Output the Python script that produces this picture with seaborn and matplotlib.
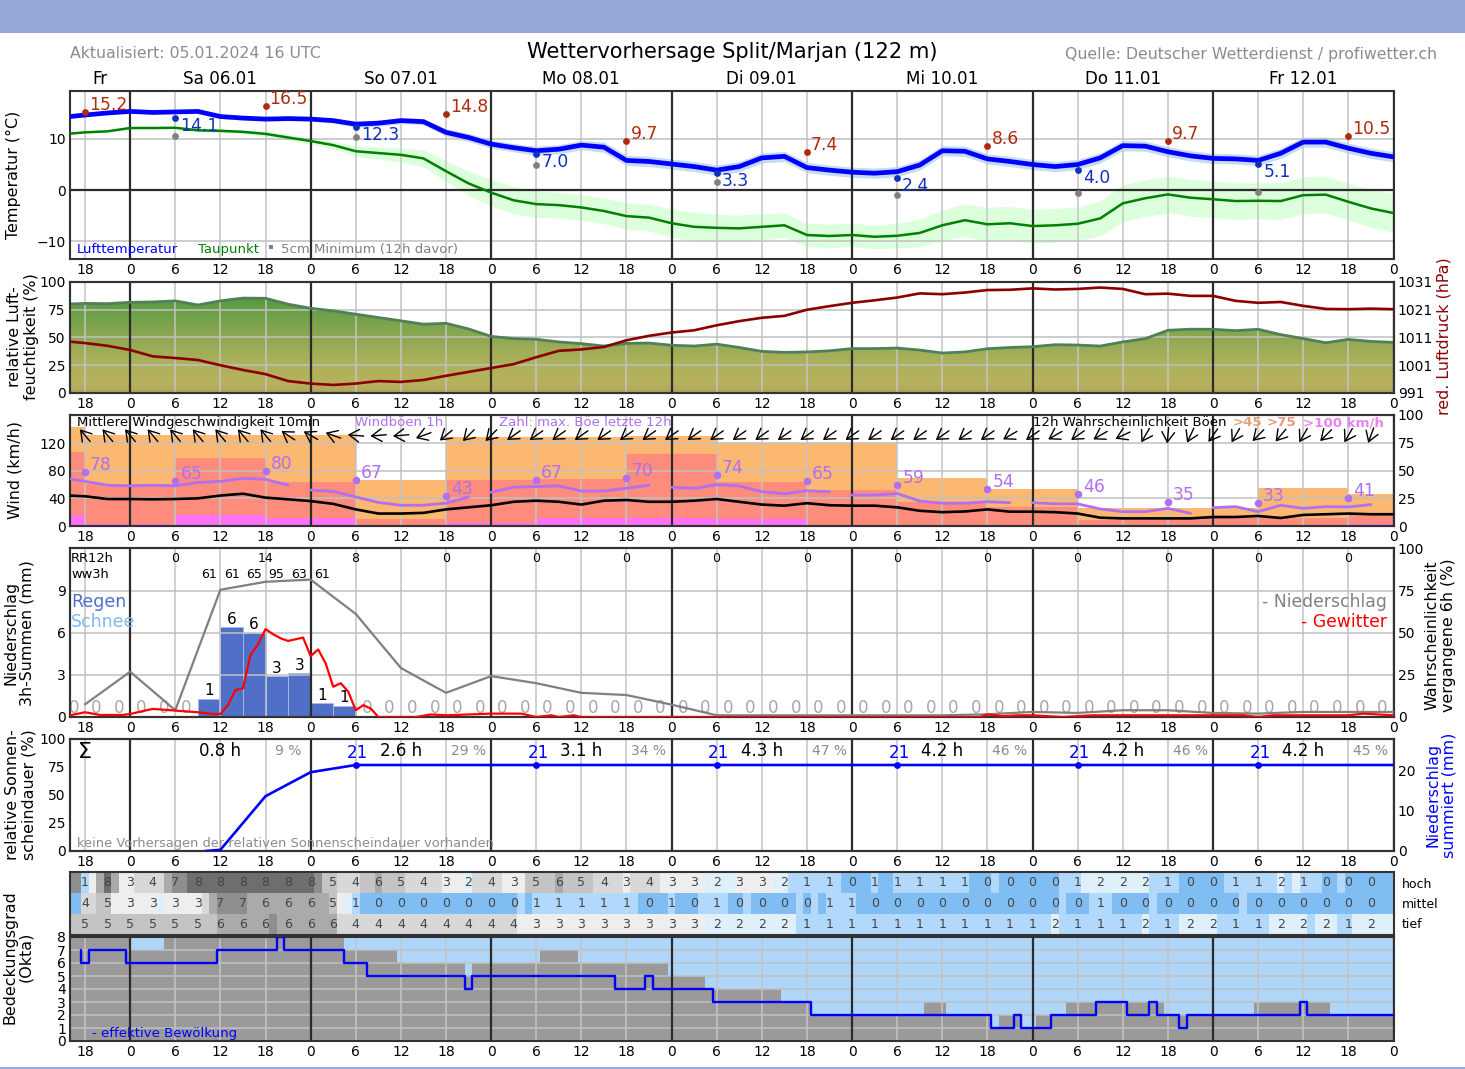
import matplotlib
matplotlib.use("Agg")
import matplotlib.pyplot as plt
import numpy as np
import pandas as pd
import seaborn as sns
from matplotlib.colors import LinearSegmentedColormap, ListedColormap
from matplotlib.patches import Rectangle

W, H = 1465, 1069

# hours relative to 06.01. 00 UTC
hours_3h = [-8, -6, -3] + list(range(0, 169, 3))
hour_ticks = list(range(-6, 169, 6))
day_ticks = list(range(0, 169, 24))
day_labels = ["Fr", "Sa 06.01", "So 07.01", "Mo 08.01", "Di 09.01", "Mi 10.01", "Do 11.01", "Fr 12.01"]
day_label_hours = [-4, 12, 36, 60, 84, 108, 132, 156]

temp = [14.4, 14.7, 15.1,
        15.4, 15.2, 15.3, 15.4, 14.4, 14.1, 13.9, 14.0,
        13.9, 13.6, 12.9, 13.1, 13.6, 13.4, 11.3, 10.3,
        9.0, 8.3, 7.7, 8.0, 8.8, 8.4, 5.8, 5.6,
        5.1, 4.6, 3.9, 4.6, 6.3, 6.6, 4.4, 3.9,
        3.5, 3.3, 3.6, 4.9, 7.7, 7.6, 6.1, 5.6,
        5.0, 4.6, 5.0, 6.3, 8.7, 8.6, 7.5, 6.7,
        6.2, 6.1, 5.8, 7.2, 9.4, 9.4, 8.2, 7.2,
        6.5]
temp_spread = [0.3, 0.3, 0.3,
               0.3, 0.3, 0.3, 0.3, 0.4, 0.4, 0.4, 0.4,
               0.4, 0.5, 0.6, 0.6, 0.6, 0.6, 0.7, 0.8,
               0.8, 0.8, 0.9, 0.9, 0.9, 1.0, 1.0, 1.0,
               1.0, 1.0, 1.0, 1.0, 1.0, 1.0, 1.0, 1.0,
               1.0, 1.0, 1.0, 1.0, 1.0, 1.0, 1.0, 1.0,
               1.0, 1.0, 1.0, 1.0, 1.0, 1.0, 1.0, 1.0,
               1.0, 1.0, 1.0, 1.0, 1.0, 1.0, 1.0, 1.0,
               1.0]
dew = [11.05, 11.3, 11.5,
       12.15, 12.15, 12.2, 11.7, 11.6, 11.4, 11.0, 10.3,
       9.6, 8.8, 7.6, 7.25, 6.9, 6.2, 3.7, 1.3,
       -0.5, -2.0, -2.75, -2.95, -3.4, -4.1, -5.1, -5.4,
       -6.5, -7.2, -7.4, -7.5, -7.2, -6.9, -8.8, -9.0,
       -8.8, -9.15, -8.95, -8.4, -6.9, -5.9, -6.7, -6.5,
       -7.05, -6.9, -6.6, -5.55, -2.6, -1.6, -0.85, -1.5,
       -1.8, -2.15, -2.1, -2.15, -1.0, -0.9, -2.3, -3.6,
       -4.5]
dew_spread = [0.0, 0.0, 0.0,
              0.0, 0.0, 0.1, 0.3, 0.4, 0.4, 0.5, 0.5,
              0.6, 0.8, 1.0, 1.2, 1.4, 1.7, 2.0, 2.4,
              2.6, 2.7, 2.6, 2.5, 2.5, 2.5, 2.6, 2.6,
              2.8, 2.8, 2.7, 2.6, 2.6, 2.4, 2.3, 2.3,
              2.3, 2.3, 2.4, 2.7, 3.0, 3.2, 3.3, 3.3,
              3.3, 3.3, 3.3, 3.4, 3.6, 3.6, 3.6, 3.6,
              3.6, 3.6, 3.5, 3.6, 3.6, 3.6, 3.6, 3.7,
              3.8]
tmax_hours = [-6, 18, 42, 66, 90, 114, 138, 162]
tmax = [15.2, 16.5, 14.8, 9.7, 7.4, 8.6, 9.7, 10.5]
tmin_hours = [6, 30, 54, 78, 102, 126, 150]
tmin = [14.1, 12.3, 7.0, 3.3, 2.4, 4.0, 5.1]
t5cm = [10.6, 10.4, 5.0, 1.5, -1.0, -0.6, -0.3]

humidity = [80.2, 80.7, 80.5,
            81.7, 82, 83, 79.3, 83, 85.5, 85.3, 80,
            76.3, 74, 71, 68, 65, 62, 62.8, 57.7,
            51, 49, 48.4, 46, 44.5, 42.3, 44.7, 45,
            43, 42.3, 44, 41, 37.5, 36.6, 37, 38,
            40, 40, 40.5, 38.7, 36, 37, 39.9, 41,
            41.7, 43.5, 43.2, 42.3, 46, 49, 56.5, 57.5,
            57.4, 56.2, 57.4, 52.6, 49, 45.3, 48.3, 46.5,
            45.6]
pressure = [1009.5, 1009.0, 1008.0,
            1006.5, 1004.2, 1003.6, 1002.9, 1001.0, 999.3, 997.8, 995.3,
            994.4, 993.9, 994.4, 995.3, 995.0, 995.7, 997.2, 998.6,
            1000.0, 1001.4, 1003.9, 1006.2, 1006.7, 1007.6, 1010.0, 1011.6,
            1012.8, 1013.6, 1015.4, 1016.9, 1018.1, 1018.8, 1021.0, 1022.3,
            1023.5, 1024.4, 1025.4, 1026.9, 1026.6, 1027.2, 1028.1, 1028.2,
            1028.7, 1028.3, 1028.5, 1029.0, 1028.5, 1026.6, 1026.8, 1026.0,
            1026.0, 1024.2, 1023.5, 1023.8, 1022.4, 1021.3, 1021.2, 1021.4,
            1021.2]

wind = [43.9, 43, 39,
        39, 38.6, 39, 40, 44, 46.7, 41, 38.6,
        36, 32, 24, 18, 18, 19, 24, 27,
        30, 35, 36.6, 35, 31, 36.6, 37.6, 35,
        35, 36.6, 39, 35, 31, 29.4, 33, 30,
        29.4, 29.4, 27, 22, 20, 21, 24, 20.7,
        20.7, 20, 18, 12, 11, 11, 11, 11,
        13, 13, 14.5, 11.6, 16, 17, 18, 17,
        17]
gust = [68, 64.6, 59,
        58, 59, 58, 63, 64.6, 69, 67.5, 59,
        52, 50, 42, 34, 30, 30, 33, 42,
        48.7, 56, 57, 58, 50.6, 50.6, 54.5, 59,
        56, 54.5, 59.8, 58, 49.6, 46.7, 51, 49.6,
        44.8, 44.8, 47, 36, 33, 33, 35, 33.7,
        33.7, 32, 32, 24.6, 20.7, 20.7, 25.5, 18.3,
        26.5, 28, 20.7, 30, 25.5, 28, 27.5, 31]
gust_max_hours = [-6, 6, 18, 30, 42, 54, 66, 78, 90, 102, 114, 126, 138, 150, 162]
gust_max = [78, 65, 80, 67, 43, 67, 70, 74, 65, 59, 54, 46, 35, 33, 41]
arrow_hours = list(range(-6, 166, 3))
arrow_dir = [130, 130, 130, 130, 130, 130, 130, 130, 130, 146,
             150, 160, 175, 185, 185, 200, 220, 225, 225,
             215, 215, 215, 215, 215, 215, 215, 215, 215, 215, 215,
             215, 215, 215, 215, 215, 215, 215, 215, 215, 215,
             215, 210, 215, 210, 215, 210, 205, 240, 265, 245, 235, 240, 225, 230, 240, 225, 240, 250]

prob_edges = [-8, -6, 6, 18, 30, 42, 54, 66, 78, 90, 102, 114, 126, 138, 150, 162, 168]
prob_45 = [89, 82, 82, 82, 41, 80, 80, 81, 74.5, 74.5, 43, 33, 16, 16, 34, 29]
prob_75 = [67, 38, 61, 40, 6, 41, 42, 65, 40, 32, 22, 17, 5, 7, 7, 11]
prob_100 = [10, 1.5, 10, 7, 0, 2.4, 7, 7, 6, 1, 0, 0, 0, 0, 0, 1.5]

rain_hours = [h + 1.5 for h in range(-9, 166, 3)]
rain = [0, 0, 0, 0, 0, 0, 1.3, 6.4, 6.0, 2.9, 3.1, 1.0, 0.8] + [0] * 46
rr12_hours = list(range(6, 163, 12))
rr12 = [0, 14, 8, 0, 0, 0, 0, 0, 0, 0, 0, 0, 0, 0]
ww_hours = [10.5, 13.5, 16.5, 19.5, 22.5, 25.5]
ww = [61, 61, 65, 95, 63, 61]
prob_hours = list(range(-6, 169, 6))
prob_rain = [7.5, 26.8, 4, 75.3, 80, 81.3, 61, 29, 14.3, 24.2,
             20, 14.3, 13, 7.3, 1, 1, 1, 1, 1, 1,
             1.6, 3, 2.4, 4, 4, 2.4, 2, 3, 3, 3]
thunder_hours = [-8, -6, -4, -1, 0, 3, 6, 9, 11, 12,
                 13, 14, 15, 16, 17, 18, 19, 20, 21, 22, 23, 24, 25, 26, 27, 28, 29, 30, 31, 32, 33,
                 38, 40, 42, 48, 52, 54, 56, 57, 59, 60,
                 113, 114, 116, 118, 120, 122, 124, 128, 144, 146, 148, 150, 152, 156, 162, 164, 168]
thunder = [1, 2.8, 1.2, 1.2, 1.8, 4.8, 3.8, 2.8, 1.8, 1.8,
           7, 16, 17, 36.7, 43, 52, 49, 46.6, 45, 46, 47, 36, 40, 31.7, 17.9, 20, 15, 4, 7, 5, 0,
           0, 1.5, 1, 2, 2, 0, 1, 0, 1, 0,
           0, 1.5, 0.5, 1, 1, 0.5, 0, 1, 1, 1, 1, 0, 1, 1, 1, 2, 1]

sum_hours = [10, 12, 18, 24, 30, 168]
sum_rain = [0, 0.3, 13.7, 19.7, 21.5, 21.5]
sum_mark_hours = [30, 54, 78, 102, 126, 150]
sun_hours_at = [12, 36, 60, 84, 108, 132, 156]
sun_hours = ["0.8 h", "2.6 h", "3.1 h", "4.3 h", "4.2 h", "4.2 h", "4.2 h"]
sun_pct_at = [21, 45, 69, 93, 117, 141, 165]
sun_pct = ["9 %", "29 %", "34 %", "47 %", "46 %", "46 %", "45 %"]

cloud_high = ([7, 7, 1, 3, 6, 8, 6, 3]
              + [3, 4, 4, 4, 4, 6, 7, 7] + [8] * 16
              + [8, 7, 5, 5, 4, 4, 4, 5, 5, 6, 5, 5, 5, 4, 4, 4, 4, 4, 3, 3, 3, 2, 4, 4]
              + [4, 4, 3, 3, 3, 5, 5, 5, 5, 6, 5, 5, 5, 5, 4, 4, 4, 4, 3, 4, 4, 4, 4, 3]
              + [3, 3, 3, 3, 3, 2, 2, 2, 2, 3, 3, 3, 3, 3, 2, 2, 1, 1, 1, 1, 1, 1, 1, 0]
              + [0, 0, 0, 1, 0, 0] + [1] * 10 + [0, 0, 0, 1, 0, 0, 0, 0]
              + [0] * 4 + [1] * 3 + [2] * 9 + [1] * 4 + [0] * 4
              + [0, 0] + [1] * 7 + [2, 1, 2, 1, 1, 1, 0, 0, 1] + [0] * 6
              + [0])
cloud_mid = ([0, 0, 4, 4, 5, 5, 3, 3]
             + [3] * 4 + [2] + [3] * 5 + [4, 6] + [7] * 4 + [6] * 8
             + [6, 6, 6, 5, 3, 2, 1] + [0] * 17
             + [0, 0, 0, 0, 1, 0] + [1] * 14 + [0] * 4
             + [1, 0, 0, 0, 1, 1, 1, 1, 0, 0, 1, 0, 0, 0, 0, 0, 0, 1, 0, 1, 0, 1, 1, 1]
             + [1] + [0] * 23
             + [0] * 4 + [1, 0, 0, 0, 1, 1, 1] + [0] * 5 + [1] + [0] * 7
             + [0] * 4 + [1] + [0] * 19
             + [0])
cloud_low = ([5] * 8
             + [5] * 12 + [6] * 7 + [7] + [6] * 4
             + [6] * 4 + [4] * 20
             + [4] * 4 + [3] * 20
             + [3] * 5 + [2] * 12 + [1] * 7
             + [1] * 24
             + [1] * 3 + [2] + [1] * 11 + [2] + [1] * 4 + [2] * 4
             + [2] + [1] * 7 + [2] * 5 + [1, 2, 2, 2, 1, 1] + [2] * 5
             + [2])
cloud_colors = ["#7fbdf2", "#b2d8fb", "#e0f0fa", "#eeeeee", "#d8d8d8",
                "#c4c4c4", "#aaaaaa", "#8e8e8e", "#6e6e6e"]

total_edges = [-8, 0, 4.5, 28.5, 35.5, 44.5, 45.5, 54.5, 59.5, 71.5, 76.5, 86.5, 90.5, 105.5,
               108.5, 114.5, 115.5, 118.5, 120.5, 124.5, 137.5, 149.5, 159.5, 168]
total_cloud = [8, 7, 8, 7, 6, 5, 6, 7, 6, 5, 4, 3, 2, 3, 2, 1, 2, 1, 2, 3, 2, 3, 2, 2]
eff_edges = [-6.5, -6.5, -5.5, -0.5, 11.5, 19.5, 20.5, 28.5, 31.5, 44.5, 45.5, 64.5, 68.5, 69.5, 77.5,
             90.5, 114.5, 117.5, 118.5, 122.5, 128.5, 132.5, 135.5, 136.5, 139.5, 140.5, 155.5, 156.5, 168]
eff_cloud = [7, 6, 7, 6, 7, 8, 7, 6, 5, 4, 5, 4, 5, 4, 3, 2, 1, 2, 1, 2, 3, 2, 3, 2, 1, 2, 3, 2, 2]

sns.set_theme(style="white")
plt.rcParams["font.family"] = ["DejaVu Sans"]
plt.rcParams["axes.edgecolor"] = "#333333"
plt.rcParams["axes.linewidth"] = 1.5

fig = plt.figure(figsize=(W / 100, H / 100), dpi=100)


def panel(top, bottom, right=1393.5):
    return fig.add_axes([70 / W, 1 - bottom / H, (right - 70) / W, (bottom - top) / H])


def px_text(x, y, s, **kw):
    kw.setdefault("va", "center")
    fig.text(x / W, 1 - y / H, s, **kw)


def line(ax, x, y, color, lw, **kw):
    sns.lineplot(x=x, y=y, color=color, linewidth=lw, estimator=None, sort=False,
                 legend=False, ax=ax, zorder=kw.pop("zorder", 4), **kw)


def points(ax, x, y, color, size=24):
    sns.scatterplot(x=x, y=y, color=color, s=size, linewidth=0, legend=False, ax=ax, zorder=5)


def finish(ax, yticks, ylim, hgrid=True):
    ax.set_xlim(-8, 168)
    ax.set_ylim(*ylim)
    ax.set_yticks(yticks)
    ax.set_xticks(hour_ticks)
    ax.set_xticklabels([str(h % 24) for h in hour_ticks])
    ax.set_xlabel("")
    ax.set_ylabel("")
    ax.tick_params(axis="both", length=0, labelsize=10, pad=3, colors="black")
    for h in hour_ticks:
        if h in day_ticks:
            ax.axvline(h, color="#2b2b2b", lw=1.6, zorder=3)
        else:
            ax.axvline(h, color="#c4c4c4", lw=1.1, zorder=2)
    if hgrid:
        for v in yticks:
            ax.axhline(v, color="#c0c0c0", lw=1.1, zorder=2)


def right_axis(ax, yticks, ylim):
    tw = ax.twinx()
    tw.set_xlim(-8, 168)
    tw.set_ylim(*ylim)
    tw.set_yticks(yticks)
    tw.tick_params(axis="y", length=0, labelsize=10, pad=3, colors="black")
    tw.grid(False)
    return tw


# header
fig.add_artist(Rectangle((0, 1 - 33 / H), 1, 33 / H, color="#95a8d6", lw=0, transform=fig.transFigure))
fig.add_artist(Rectangle((0, 0), 1, 2 / H, color="#95a8d6", lw=0, transform=fig.transFigure))
px_text(70, 54, "Aktualisiert: 05.01.2024 16 UTC", color="#8c8c8c", fontsize=11.3)
px_text(732, 52, "Wettervorhersage Split/Marjan (122 m)", color="black", fontsize=15.15, ha="center")
px_text(1437, 54, "Quelle: Deutscher Wetterdienst / profiwetter.ch", color="#8c8c8c", fontsize=11.3, ha="right")
for h, s in zip(day_label_hours, day_labels):
    px_text(130 + 7.52 * h, 78.5, s, color="black", fontsize=12.1, ha="center")

# temperature
ax = panel(91, 259)
t, d = np.array(temp), np.array(dew)
ax.fill_between(hours_3h, t - np.array(temp_spread), t + np.array(temp_spread), color="#c6dcf2", lw=0, zorder=1)
ax.fill_between(hours_3h, d - np.array(dew_spread), d + np.array(dew_spread), color="#dcffdc", lw=0, zorder=1)
finish(ax, [-10, 0, 10], (-13.5, 19.4))
ax.axhline(0, color="#2b2b2b", lw=1.6, zorder=3)
line(ax, hours_3h, dew, "#008000", 1.8)
line(ax, hours_3h, temp, "#0000ff", 3.4)
points(ax, tmax_hours, tmax, "#b02a0e")
points(ax, tmin_hours, tmin, "#1030c0")
points(ax, tmin_hours, t5cm, "#808080")
for h, v in zip(tmax_hours, tmax):
    ax.annotate(f"{v:.1f}", (h, v), xytext=(4, 7), textcoords="offset pixels", color="#b02a0e",
                fontsize=12.3, va="center", zorder=6)
for h, v in zip(tmin_hours, tmin):
    ax.annotate(f"{v:.1f}", (h, v), xytext=(5, -8), textcoords="offset pixels", color="#1030c0",
                fontsize=12.3, va="center", zorder=6)
px_text(77, 250, "Lufttemperatur", color="#0000ff", fontsize=9.5)
px_text(198, 250, "Taupunkt", color="#008000", fontsize=9.5)
px_text(281, 250, "5cm Minimum (12h davor)", color="#808080", fontsize=9.5)
fig.add_artist(Rectangle((269 / W, 1 - 249 / H), 4 / W, 4 / H, color="#808080", lw=0, transform=fig.transFigure))
px_text(13, 175, "Temperatur (°C)", color="black", fontsize=11.4, rotation=90, ha="center")

# humidity and pressure
ax = panel(282, 393)
area = ax.fill_between(hours_3h, 0, humidity, color="none", lw=0)
rh_cmap = LinearSegmentedColormap.from_list(
    "rh", [(0, "#b0a35c"), (0.08, "#b8b25e"), (0.3, "#aab05a"), (0.5, "#8fa853"), (0.75, "#689f48"), (1, "#3c9036")])
im = ax.imshow(np.linspace(1, 0, 200).reshape(-1, 1), extent=(-8, 168, 0, 100), aspect="auto", cmap=rh_cmap,
               vmin=0, vmax=1, zorder=1)
im.set_clip_path(area.get_paths()[0], transform=ax.transData)
finish(ax, [0, 25, 50, 75, 100], (0, 100))
line(ax, hours_3h, humidity, "#4f8058", 2.0)
tw = right_axis(ax, [991, 1001, 1011, 1021, 1031], (991, 1031))
line(tw, hours_3h, pressure, "#8b0000", 1.9)
tw.set_ylabel("")
px_text(23, 337, "relative Luft-\nfeuchtigkeit (%)", color="black", fontsize=11.4, rotation=90, ha="center",
        multialignment="center", linespacing=1.1)
px_text(1444, 336, "red. Luftdruck (hPa)", color="#8b0000", fontsize=11.4, rotation=90, ha="center")

# wind
ax = panel(415, 526)
finish(ax, [0, 40, 80, 120], (0, 160.5))
tw = right_axis(ax, [0, 25, 50, 75, 100], (0, 100))
tw.fill_between(prob_edges, 0, prob_45 + prob_45[-1:], step="post", color="#fcb870", lw=0, zorder=1)
tw.fill_between(prob_edges, 0, prob_75 + prob_75[-1:], step="post", color="#fd8c7c", lw=0, zorder=1)
tw.fill_between(prob_edges, 0, prob_100 + prob_100[-1:], step="post", color="#ff70f8", lw=0, zorder=1)
ax.set_zorder(tw.get_zorder() + 1)
ax.patch.set_visible(False)
line(ax, hours_3h, wind, "black", 1.9)
gust_days = [max(h, 0) // 24 for h in hours_3h[:-1]]
line(ax, hours_3h[:-1], gust, "#b070f0", 2.0, units=gust_days)
points(ax, gust_max_hours, gust_max, "#b070f0", 30)
for h, v in zip(gust_max_hours, gust_max):
    ax.annotate(str(v), (h, v), xytext=(5, 7), textcoords="offset pixels", color="#b070f0",
                fontsize=12.3, va="center", zorder=6)
for h, a in zip(arrow_hours, arrow_dir):
    dx, dy = 8 * np.cos(np.radians(a)), 8 * np.sin(np.radians(a))
    ax.annotate("", xy=(h + dx / 7.52, 131 + dy / 0.692), xytext=(-2 * dx, -2 * dy), textcoords="offset pixels",
                arrowprops=dict(arrowstyle="->,head_length=0.6,head_width=0.38", color="black", lw=1.0,
                                shrinkA=0, shrinkB=0), zorder=6)
px_text(77, 423, "Mittlere Windgeschwindigkeit 10min", color="black", fontsize=9.5)
px_text(355, 423, "Windböen 1h", color="#b070f0", fontsize=9.5)
px_text(499, 423, "Zahl: max. Böe letzte 12h", color="#b070f0", fontsize=9.5)
px_text(1033, 423, "12h Wahrscheinlichkeit Böen", color="black", fontsize=9.5)
px_text(1233, 423, ">45", color="#eaa172", fontsize=9.6, fontweight="bold")
px_text(1267, 423, ">75", color="#ea9a7a", fontsize=9.6, fontweight="bold")
px_text(1303, 423, ">100 km/h", color="#e884f0", fontsize=9.6, fontweight="bold")
px_text(15, 470, "Wind (km/h)", color="black", fontsize=11.4, rotation=90, ha="center")

# precipitation
ax = panel(548, 717)
sns.barplot(x=rain_hours, y=rain, native_scale=True, width=1, color="#5070c8", saturation=1, edgecolor="#a8bce8",
            linewidth=0.6, ax=ax, zorder=1)
finish(ax, [0, 3, 6, 9], (0, 12.03))
tw = right_axis(ax, [0, 25, 50, 75, 100], (0, 100))
line(tw, prob_hours, prob_rain, "#808080", 1.6)
line(tw, thunder_hours, thunder, "#ff0000", 1.6, zorder=5)
for h, v in zip(rain_hours, rain):
    if v > 0:
        ax.text(h, v + 0.02, f"{v:.0f}", ha="center", va="bottom", fontsize=11, color="black", zorder=6)
    else:
        ax.text(h, 0.02, "0", ha="center", va="bottom", fontsize=12, color="#a6a6a6", zorder=3)
for h, v in zip(rr12_hours, rr12):
    px_text(130 + 7.52 * h, 559, str(v), color="black", fontsize=9, ha="center")
for h, v in zip(ww_hours, ww):
    px_text(130 + 7.52 * h, 575, str(v), color="black", fontsize=9, ha="center")
px_text(71, 559, "RR12h", color="black", fontsize=9.4)
px_text(71, 575, "ww3h", color="black", fontsize=9.4)
px_text(71, 602, "Regen", color="#4a6fd0", fontsize=12.5)
px_text(71, 622, "Schnee", color="#80b8f0", fontsize=12.5)
px_text(1387, 602, "- Niederschlag", color="#808080", fontsize=12.4, ha="right")
px_text(1387, 622, "- Gewitter", color="#ff0000", fontsize=12.4, ha="right")
px_text(19, 633, "Niederschlag\n3h-Summen (mm)", color="black", fontsize=11.4, rotation=90, ha="center",
        multialignment="center", linespacing=1.1)
px_text(1440, 635, "Wahrscheinlichkeit\nvergangene 6h (%)", color="black", fontsize=11.4, rotation=90, ha="center",
        multialignment="center", linespacing=1.1)

# sunshine and accumulated rain
ax = panel(739, 851)
finish(ax, [0, 25, 50, 75, 100], (0, 100), hgrid=False)
tw = right_axis(ax, [0, 10, 20], (0, 28))
line(tw, sum_hours, sum_rain, "#0000ff", 1.9)
points(tw, sum_mark_hours, [21.5] * 6, "#0000ff", 24)
for h in sum_mark_hours:
    px_text(130 + 7.52 * h + 2, 753, "21", color="#0000ff", fontsize=12, ha="center")
for h, s in zip(sun_hours_at, sun_hours):
    px_text(130 + 7.52 * h, 751, s, color="black", fontsize=12, ha="center")
for h, s in zip(sun_pct_at, sun_pct):
    px_text(130 + 7.52 * h, 751, s, color="#8c8c8c", fontsize=10, ha="center")
px_text(85, 752, "Σ", color="black", fontsize=16, ha="center")
px_text(77, 843, "keine Vorhersagen der relativen Sonnenscheindauer vorhanden", color="#8c8c8c", fontsize=9.35)
px_text(21, 795, "relative Sonnen-\nscheindauer (%)", color="black", fontsize=11.4, rotation=90, ha="center",
        multialignment="center", linespacing=1.1)
px_text(1441, 795, "Niederschlag\nsummiert (mm)", color="#0000ff", fontsize=11.4, rotation=90, ha="center",
        multialignment="center", linespacing=1.1)

# cloud table
ax = panel(872, 935)
table = pd.DataFrame([cloud_high, cloud_mid, cloud_low], index=["hoch", "mittel", "tief"],
                     columns=list(range(-8, 169)))
sns.heatmap(table, cmap=ListedColormap(cloud_colors), vmin=-0.5, vmax=8.5, cbar=False,
            xticklabels=False, yticklabels=False, ax=ax)
ax.set_xlim(0.5, 176.5)
ax.set_ylim(3, 0)
ax.set_xlabel("")
ax.set_ylabel("")
for spine in ax.spines.values():
    spine.set_visible(True)
for r, row in enumerate(table.values):
    for h in range(-6, 166, 3):
        ax.text(h + 8.5, r + 0.5, str(row[h + 8]), ha="center", va="center", fontsize=9, color="#444444")
px_text(1402, 884, "hoch", color="black", fontsize=9)
px_text(1402, 905, "mittel", color="black", fontsize=9)
px_text(1402, 925, "tief", color="black", fontsize=9)

# cloud cover
ax = panel(937, 1041)
ax.set_facecolor("#afd5f9")
ax.fill_between(total_edges, 0, total_cloud, step="post", color="#9a9a9a", lw=0, zorder=1)
finish(ax, list(range(9)), (0, 8))
line(ax, eff_edges, eff_cloud, "#0000ff", 1.7, drawstyle="steps-post")
px_text(92, 1034, "- effektive Bewölkung", color="#0000ff", fontsize=9.5)
px_text(18, 957, "Bedeckungsgrad\n(Okta)", color="black", fontsize=11.4, rotation=90, ha="center",
        multialignment="center", linespacing=1.1)

fig.savefig("out.png", dpi=100)
